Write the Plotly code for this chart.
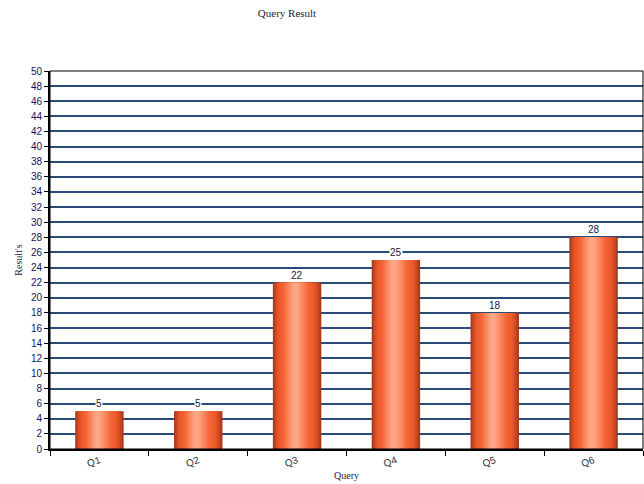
import plotly.graph_objects as go

# Query result counts
queries = ["Q1", "Q2", "Q3", "Q4", "Q5", "Q6"]
results = [5, 5, 22, 25, 18, 28]
y_ticks = list(range(0, 51, 2))

BAR_WIDTH = 0.49
HIGHLIGHT = -0.02  # position of the glossy highlight inside a bar (category units)

# Cylinder shading: colour stops from the bar edge (0) to the highlight (1)
shade_stops = [
    (0.00, (168, 58, 28)),
    (0.12, (210, 76, 36)),
    (0.25, (236, 90, 44)),
    (0.45, (244, 100, 52)),
    (0.65, (248, 132, 90)),
    (0.85, (252, 160, 126)),
    (1.00, (255, 172, 140)),
]


def shade(t):
    for (t0, c0), (t1, c1) in zip(shade_stops, shade_stops[1:]):
        if t <= t1:
            f = (t - t0) / (t1 - t0) if t1 > t0 else 0
            r, g, b = (round(a + (b_ - a) * f) for a, b_ in zip(c0, c1))
            return f"rgb({r},{g},{b})"
    r, g, b = shade_stops[-1][1]
    return f"rgb({r},{g},{b})"


fig = go.Figure()

n_layers = 16
left0, right0 = -BAR_WIDTH / 2, BAR_WIDTH / 2
for k in range(n_layers):
    t = k / n_layers
    left = left0 + (HIGHLIGHT - left0) * t
    right = right0 - (right0 - HIGHLIGHT) * t
    fig.add_trace(go.Bar(
        x=queries,
        y=results,
        offset=left,
        width=right - left,
        marker=dict(color=shade(t), line=dict(width=0)),
        showlegend=False,
        hoverinfo="skip" if k else "x+y",
    ))

# Value labels on a white box above each bar
for q, v in zip(queries, results):
    fig.add_annotation(
        x=q, y=v, text=str(v), showarrow=False,
        yanchor="bottom", yshift=1,
        bgcolor="white", borderpad=0,
        font=dict(family="Liberation Sans", size=10, color="#1a1a3a"),
    )

fig.update_layout(
    width=644, height=484,
    margin=dict(l=50, r=1, t=71, b=35),
    paper_bgcolor="white",
    plot_bgcolor="white",
    barmode="overlay",
    title=dict(
        text="Query Result",
        x=287 / 644, xanchor="center", xref="container",
        y=1 - 13 / 484, yanchor="middle", yref="container",
        font=dict(family="Liberation Serif", size=11, color="#2a1a40"),
    ),
    xaxis=dict(
        type="category",
        title=dict(text="Query", standoff=4,
                   font=dict(family="Liberation Serif", size=10, color="#2a1a40")),
        tickangle=-20,
        tickson="boundaries",
        ticks="outside", ticklen=5, tickwidth=1, tickcolor="black",
        showline=True, linewidth=2, linecolor="black",
        showgrid=False,
        tickfont=dict(family="Liberation Sans", size=10, color="#303030"),
        automargin=False,
    ),
    yaxis=dict(
        range=[0, 50],
        tickvals=y_ticks,
        title=dict(text="Result's", standoff=6,
                   font=dict(family="Liberation Serif", size=10, color="#2a1a40")),
        ticks="outside", ticklen=4, tickwidth=1, tickcolor="black",
        showline=True, linewidth=2, linecolor="black",
        showgrid=True, gridcolor="#2a4a78", gridwidth=1.5,
        zeroline=False,
        tickfont=dict(family="Liberation Sans", size=10, color="#14145a"),
        automargin=False,
    ),
    shapes=[dict(
        type="rect", xref="paper", yref="paper",
        x0=0, x1=1, y0=0, y1=1,
        line=dict(color="black", width=1),
        layer="above",
    )],
)

fig.write_html("out.html")
